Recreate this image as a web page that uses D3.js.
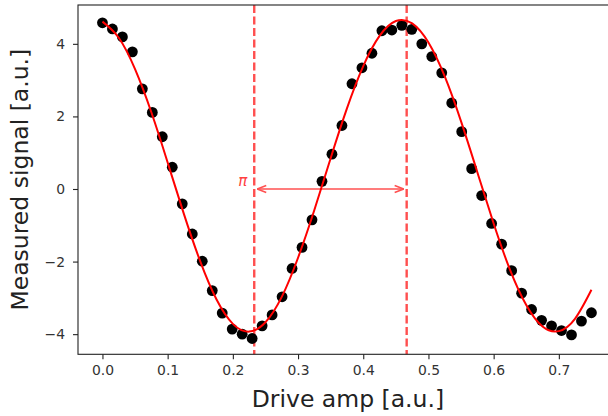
<!DOCTYPE html>
<html><head><meta charset="utf-8">
<script src="https://cdn.jsdelivr.net/npm/d3@7"></script>
<style>
html,body{margin:0;padding:0;background:#fff;}
svg text{font-family:"DejaVu Sans",sans-serif;}
</style></head>
<body><svg id="c" width="608" height="416"></svg>
<script>
// Data
const driveAmp = [0.0000,0.0153,0.0306,0.0459,0.0612,0.0765,0.0918,0.1071,0.1224,0.1378,
  0.1531,0.1684,0.1837,0.1990,0.2143,0.2296,0.2449,0.2602,0.2755,0.2908,
  0.3061,0.3214,0.3367,0.3520,0.3673,0.3827,0.3980,0.4133,0.4286,0.4439,
  0.4592,0.4745,0.4898,0.5051,0.5204,0.5357,0.5510,0.5663,0.5816,0.5969,
  0.6122,0.6276,0.6429,0.6582,0.6735,0.6888,0.7041,0.7194,0.7347,0.7500];
const measured = [4.58,4.41,4.19,3.78,2.76,2.11,1.44,0.60,-0.41,-1.24,
  -1.99,-2.80,-3.42,-3.86,-4.00,-4.12,-3.77,-3.47,-2.97,-2.19,
  -1.61,-0.85,0.21,0.96,1.75,2.90,3.34,3.74,4.36,4.38,
  4.51,4.40,4.00,3.65,3.20,2.37,1.58,0.56,-0.18,-0.95,
  -1.52,-2.25,-2.87,-3.32,-3.62,-3.77,-3.90,-4.02,-3.64,-3.41];
const fitX = [0,0.025,0.05,0.075,0.1,0.125,0.15,0.175,0.2,0.225,0.25,0.275,0.3,0.325,0.35,
  0.375,0.4,0.425,0.45,0.475,0.5,0.525,0.55,0.575,0.6,0.625,0.65,0.675,0.7,0.725,0.75];
const fitY = [4.612,4.167,3.302,2.114,0.731,-0.693,-1.995,-3.047,-3.716,-3.930,-3.673,-2.974,
  -1.894,-0.578,0.849,2.221,3.386,4.218,4.628,4.563,4.035,3.100,1.862,0.461,-0.951,-2.223,
  -3.199,-3.791,-3.916,-3.570,-2.778];
const piAmp = 0.2328;
const twoPiAmp = 0.4666;
const xTicks = [0.0,0.1,0.2,0.3,0.4,0.5,0.6,0.7];
const yTicks = [-4,-2,0,2,4];
const xLabel = "Drive amp [a.u.]";
const yLabel = "Measured signal [a.u.]";
const piLabel = "π";

const svg = d3.select("#c");
const L = 78, R = 615.9, T = 5, B = 354.3;
const x = d3.scaleLinear().domain([-0.0375, 0.7875]).range([L, R]);
const y = d3.scaleLinear().domain([-4.555, 5.07]).range([B, T]);

// defs for arrowheads
const defs = svg.append("defs");
defs.append("marker").attr("id","ah").attr("viewBox","0 0 10 10").attr("refX",10).attr("refY",5)
  .attr("markerWidth",10).attr("markerHeight",10).attr("markerUnits","userSpaceOnUse")
  .attr("orient","auto-start-reverse")
  .append("path").attr("d","M1,1.5 L10,5 L1,8.5").attr("fill","none")
  .attr("stroke","#ff5050").attr("stroke-width",1.5);

// vertical dashed lines
[piAmp, twoPiAmp].forEach(v => {
  svg.append("line").attr("x1", x(v)).attr("x2", x(v)).attr("y1", T).attr("y2", B)
    .attr("stroke", "#ff3030").attr("stroke-opacity", 0.85).attr("stroke-width", 2.4)
    .attr("stroke-dasharray", "8,3.5");
});

// arrow
svg.append("line").attr("x1", x(piAmp) + 3).attr("x2", x(twoPiAmp) - 3)
  .attr("y1", y(0)).attr("y2", y(0))
  .attr("stroke", "#ff5050").attr("stroke-width", 1.5)
  .attr("marker-start", "url(#ah)").attr("marker-end", "url(#ah)");
svg.append("text").attr("x", x(piAmp) - 7).attr("y", y(0) - 3).attr("text-anchor","end")
  .attr("font-size", 15).attr("font-style","italic").attr("fill", "#ff4040").text(piLabel);

// data points
svg.append("g").selectAll("circle").data(measured).join("circle")
  .attr("cx", (d,i) => x(driveAmp[i])).attr("cy", d => y(d)).attr("r", 5.4).attr("fill", "#000");

// fit line
const line = d3.line().x((d,i) => x(fitX[i])).y(d => y(d)).curve(d3.curveNatural);
svg.append("path").attr("d", line(fitY)).attr("fill","none").attr("stroke","#ff0000").attr("stroke-width",2);

// axes
const gx = svg.append("g").attr("transform", `translate(0,${B})`)
  .call(d3.axisBottom(x).tickValues(xTicks).tickFormat(d3.format(".1f")).tickSizeOuter(0).tickSize(5).tickPadding(6));
const gy = svg.append("g").attr("transform", `translate(${L},0)`)
  .call(d3.axisLeft(y).tickValues(yTicks).tickFormat(d3.format("d")).tickSizeOuter(0).tickSize(5).tickPadding(8));
[gx, gy].forEach(g => {
  g.select(".domain").remove();
  g.selectAll("line").attr("stroke", "#222").attr("stroke-width", 1.1);
  g.selectAll("text").attr("font-size", 13.9).attr("fill", "#333").attr("font-family","DejaVu Sans");
});
// frame
svg.append("rect").attr("x", L).attr("y", T).attr("width", R - L).attr("height", B - T)
  .attr("fill","none").attr("stroke","#222").attr("stroke-width",1.1);

// labels
svg.append("text").attr("x", (L + R) / 2 + 1).attr("y", 407).attr("text-anchor","middle")
  .attr("font-size", 23.5).attr("fill","#222").text(xLabel);
svg.append("text").attr("transform", `translate(28,${(T + B) / 2}) rotate(-90)`).attr("text-anchor","middle")
  .attr("font-size", 23.5).attr("fill","#222").text(yLabel);
</script></body></html>
